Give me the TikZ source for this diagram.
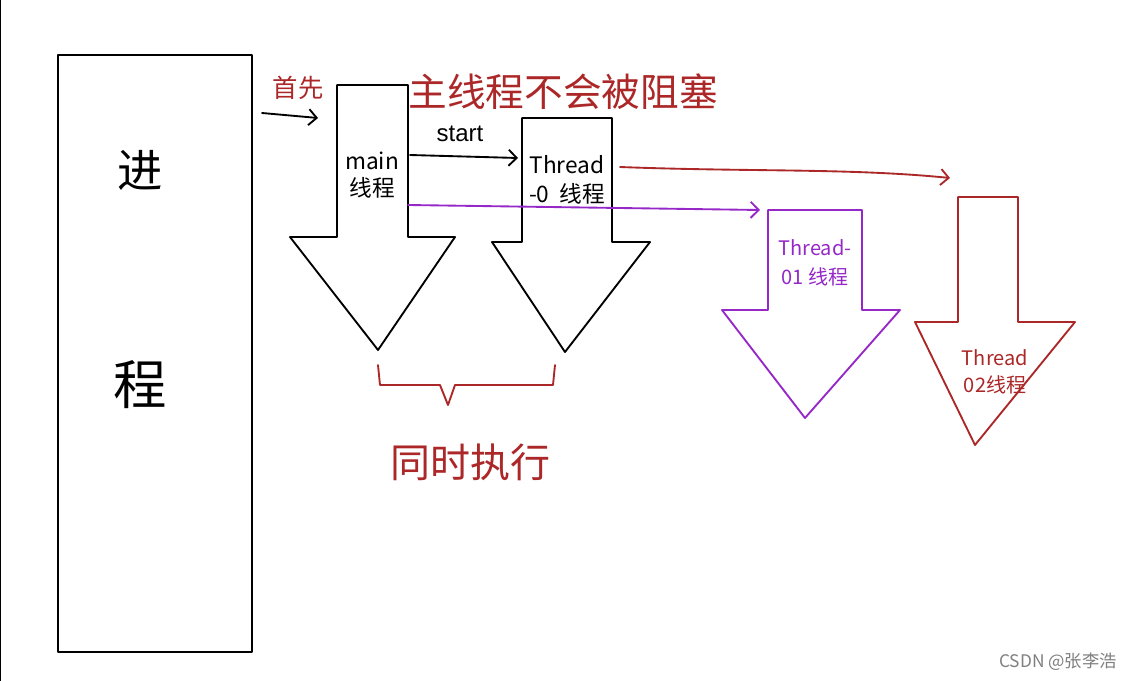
\documentclass[tikz,border=0pt]{standalone}
\usepackage{fontspec}
\usetikzlibrary{arrows.meta}
\setmainfont{Liberation Sans}
\newfontfamily\cjk{Noto Sans CJK SC}
\definecolor{hred}{RGB}{172,40,40}
\definecolor{hpur}{RGB}{150,40,200}
\begin{document}
\begin{tikzpicture}[x=0.75pt,y=-0.75pt,line join=round,line cap=round,
  ln/.style={line width=1.4pt},
  arr/.style={ln,-{Straight Barb[length=6pt,width=12pt]}},
  lbl/.style={inner sep=0pt,font=\cjk}]
\useasboundingbox (0,0) rectangle (1139,681);
\fill[white] (0,0) rectangle (1139,681);
\draw[ln] (0,0)--(0,681);
% process box
\draw[ln] (58,55) rectangle (252,652);
\node[lbl,font=\cjk\fontsize{34}{34}\selectfont] (jin) at (140,170) {进};
\node[lbl,font=\cjk\fontsize{40}{40}\selectfont] (cheng) at (140,385) {程};
% main arrow
\draw[ln] (337,237)--(337,85)--(408,85)--(408,237)--(455,237)--(378,350)--(290,237)--(337,237);
\node[lbl,align=center,font=\cjk\fontsize{17}{20}\selectfont] (main) at (372,175) {main\\线程};
% thread-0 arrow
\draw[ln] (522,242)--(522,118)--(612,118)--(612,242)--(650,242)--(565,352)--(492,242)--(522,242);
\node[lbl,align=center,font=\cjk\fontsize{17}{22}\selectfont] (t0) at (567,180) {Thread\\-0\ \ 线程};
% thread-01 arrow
\draw[ln,hpur] (768,310)--(768,210)--(862,210)--(862,310)--(900,310)--(805,418)--(722,310)--(768,310);
\node[lbl,hpur,align=center,font=\cjk\fontsize{15}{22}\selectfont] (t1) at (815,263) {Thread-\\01 线程};
% thread-02 arrow
\draw[ln,hred] (958,322)--(958,197)--(1018,197)--(1018,322)--(1075,322)--(975,445)--(915,322)--(958,322);
\node[lbl,hred,align=center,font=\cjk\fontsize{15}{20}\selectfont] (t2) at (995,372) {Thread\\02线程};
% connectors
\coordinate (s1) at (262,113); \coordinate (s2) at (318,118);
\draw[arr] (s1)--(s2);
\node[lbl,hred,font=\cjk\fontsize{19}{19}\selectfont] (shou) at (298,88) {首先};
\coordinate (a1) at (410,155); \coordinate (a2) at (518,158);
\draw[arr] (a1)--(a2);
\node[lbl,font=\fontsize{18}{18}\selectfont] (start) at (460,134) {start};
\node[lbl,hred,font=\cjk\fontsize{29}{29}\selectfont] (zhu) at (563,92) {主线程不会被阻塞};
\coordinate (r1) at (620,167); \coordinate (r2) at (950,178);
\draw[arr,hred] (r1) .. controls (750,172) and (850,168) .. (r2);
\coordinate (p1) at (408,205); \coordinate (p2) at (760,210);
\draw[arr,hpur] (p1)--(p2);
% brace
\draw[ln,hred] (378,365)--(380,385)--(440,385)--(448,405)--(455,385)--(553,385)--(555,365);
\node[lbl,hred,font=\cjk\fontsize{30}{30}\selectfont] (tong) at (470,462) {同时执行};
\node[lbl,gray,font=\cjk\fontsize{13}{13}\selectfont] (wm) at (1058,662) {CSDN @张李浩};
\end{tikzpicture}
\end{document}
